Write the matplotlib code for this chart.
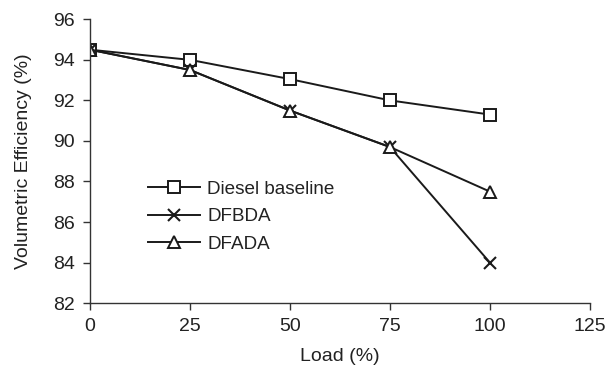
import matplotlib
matplotlib.use("Agg")
import matplotlib.pyplot as plt

plt.rcParams['font.family'] = ['Liberation Sans', 'DejaVu Sans']

load = [0, 25, 50, 75, 100]
diesel = [94.5, 94.0, 93.05, 92.0, 91.3]
dfbda = [94.5, 93.5, 91.5, 89.7, 84.0]
dfada = [94.5, 93.5, 91.5, 89.7, 87.5]

fs = 14
fig = plt.figure(figsize=(6.1, 3.71), dpi=100)
ax = fig.add_axes([0.1475, 0.183, 0.8195, 0.765])

ax.plot(load, diesel, color='#1a1a1a', lw=1.4, marker='s', ms=8,
        mfc='white', mec='#1a1a1a', mew=1.4, label='Diesel baseline')
ax.plot(load, dfbda, color='#1a1a1a', lw=1.4, marker='x', ms=9,
        mec='#1a1a1a', mew=1.5, label='DFBDA')
ax.plot(load, dfada, color='#1a1a1a', lw=1.4, marker='^', ms=8,
        mfc='white', mec='#1a1a1a', mew=1.4, label='DFADA')

ax.set_xlim(0, 125)
ax.set_ylim(82, 96)
ax.set_xticks([0, 25, 50, 75, 100, 125])
ax.set_yticks(range(82, 97, 2))
ax.spines['top'].set_visible(False)
ax.spines['right'].set_visible(False)
for s in ('left', 'bottom'):
    ax.spines[s].set_color('#333333')
    ax.spines[s].set_linewidth(1.0)
ax.tick_params(direction='out', length=5, width=1.0, color='#333333',
               labelsize=fs, labelcolor='#222222')
ax.tick_params(axis='y', pad=6)
ax.tick_params(axis='x', pad=6)
ax.set_xlabel('Load (%)', fontsize=fs, color='#222222', labelpad=9)
ax.set_ylabel('Volumetric Efficiency (%)', fontsize=fs, color='#222222',
              labelpad=15)

ax.legend(loc='upper left', bbox_to_anchor=(0.1, 0.459), frameon=False,
          fontsize=13.6, handlelength=2.8, handletextpad=0.36,
          labelspacing=0.55, borderaxespad=0)
for t in ax.get_legend().get_texts():
    t.set_color('#222222')

fig.savefig('out.png', dpi=100)
